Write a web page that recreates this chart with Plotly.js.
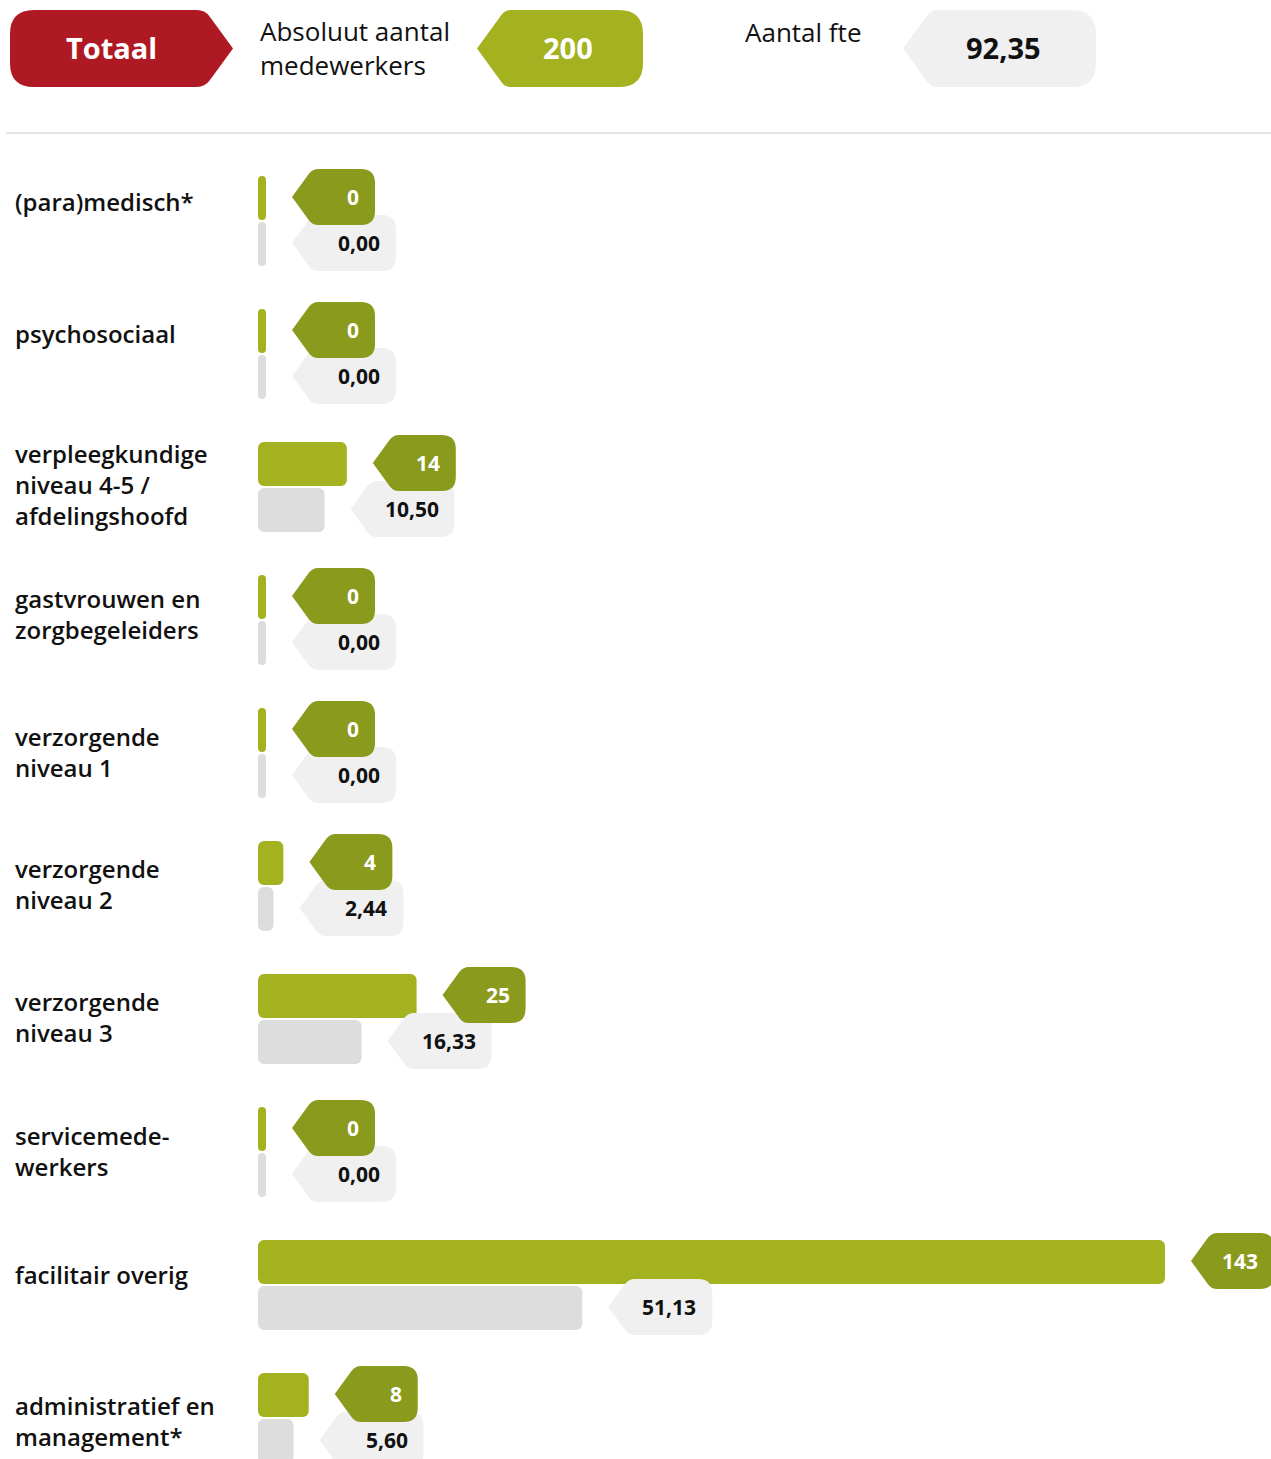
<!DOCTYPE html>
<html><head><meta charset="utf-8">
<script src="https://cdn.plot.ly/plotly-3.0.1.min.js"></script>
<style>html,body{margin:0;padding:0;background:#fff}</style>
</head><body><div id="chart" style="width:1271px;height:1459px"></div>
<script>
// ---- data ----
const categories = ["(para)medisch*","psychosociaal","verpleegkundige<br>niveau 4-5 /<br>afdelingshoofd","gastvrouwen en<br>zorgbegeleiders","verzorgende<br>niveau 1","verzorgende<br>niveau 2","verzorgende<br>niveau 3","servicemede-<br>werkers","facilitair overig","administratief en<br>management*"];
const headcount = [0,0,14,0,0,4,25,0,143,8];
const fte = [0,0,10.50,0,0,2.44,16.33,0,51.13,5.60];
const totalLabel = "Totaal";
const totalHeadcount = 200;
const totalFte = 92.35;
const headcountTitle = "Absoluut aantal<br>medewerkers";
const fteTitle = "Aantal fte";

// ---- layout / style ----
const W = 1271, H = 1459;
const X0 = 258, PPU = 907/143, ROW = 133, ROW0 = 221;
const STUB = 8/PPU, GAP = 26;
const labelOffsetPx = [-20,-21,-3,-6,-1,-2,-2,-1,-11,3];
const C_GREEN = "#a4b220", C_GREEN_D = "#8a9a1c", C_GRAY = "#dddddd", C_GRAY_L = "#f0f0f0", C_RED = "#ae1923";
const FONT = "Open Sans, Noto Sans, sans-serif";

const fmt = v => v.toFixed(2).replace('.', ',');
const idx = categories.map((_, i) => i);
const dispHead = headcount.map(v => Math.max(v, STUB));
const dispFte = fte.map(v => Math.max(v, STUB));

function P(x, y) { return x.toFixed(2) + "," + (-y).toFixed(2); }
// badge with arrow tip on the left at (tx, cy) in screen px offsets
function badgeLeft(tx, cy, w, h, r) {
  const hh = h/2, d = hh*0.73, r2 = 6, L = Math.hypot(d, hh);
  const ux = d/L, uy = hh/L;
  let s = "M" + P(tx, cy);
  s += " L" + P(tx + d - ux*r2, cy - hh + uy*r2) + " Q" + P(tx + d, cy - hh) + " " + P(tx + d + r2, cy - hh);
  s += " L" + P(tx + w - r, cy - hh) + " Q" + P(tx + w, cy - hh) + " " + P(tx + w, cy - hh + r);
  s += " L" + P(tx + w, cy + hh - r) + " Q" + P(tx + w, cy + hh) + " " + P(tx + w - r, cy + hh);
  s += " L" + P(tx + d + r2, cy + hh) + " Q" + P(tx + d, cy + hh) + " " + P(tx + d - ux*r2, cy + hh - uy*r2);
  return s + " Z";
}
// badge with arrow tip on the right
function badgeRight(lx, tip, top, bot, r) {
  const hh = (bot - top)/2, cy = top + hh, d = hh*0.73, r2 = 8, L = Math.hypot(d, hh);
  const ux = d/L, uy = hh/L;
  let s = "M" + P(lx + r, top);
  s += " L" + P(tip - d - r2, top) + " Q" + P(tip - d, top) + " " + P(tip - d + ux*r2, top + uy*r2);
  s += " L" + P(tip, cy);
  s += " L" + P(tip - d + ux*r2, bot - uy*r2) + " Q" + P(tip - d, bot) + " " + P(tip - d - r2, bot);
  s += " L" + P(lx + r, bot) + " Q" + P(lx, bot) + " " + P(lx, bot - r);
  s += " L" + P(lx, top + r) + " Q" + P(lx, top) + " " + P(lx + r, top) + " Z";
  return s;
}
function badgeLeftBox(tip, right, top, bot, r) {
  return badgeLeft(tip, (top + bot)/2, right - tip, bot - top, r);
}

const traces = [
  { type: "bar", orientation: "h", y: idx, x: dispHead, base: 0,
    width: 44/ROW, offset: -45/ROW, marker: { color: C_GREEN, cornerradius: 6 },
    customdata: headcount, hovertemplate: "%{customdata}<extra></extra>" },
  { type: "bar", orientation: "h", y: idx, x: dispFte, base: 0,
    width: 44/ROW, offset: 1/ROW, marker: { color: C_GRAY, cornerradius: 6 },
    customdata: fte, hovertemplate: "%{customdata}<extra></extra>" }
];

const shapes = [], annotations = [];
const GW = 83, FW = 104, BH = 56, GY = -24, FY = 22, PADR = 14;
idx.forEach(i => {
  shapes.push({ type: "path", xref: "x", yref: "y", xsizemode: "pixel", ysizemode: "pixel",
    xanchor: dispFte[i], yanchor: i, path: badgeLeft(GAP, FY, FW, BH, 14),
    fillcolor: C_GRAY_L, line: { width: 0 } });
  shapes.push({ type: "path", xref: "x", yref: "y", xsizemode: "pixel", ysizemode: "pixel",
    xanchor: dispHead[i], yanchor: i, path: badgeLeft(GAP, GY, GW, BH, 14),
    fillcolor: C_GREEN_D, line: { width: 0 } });
  annotations.push({ xref: "x", yref: "y", x: dispFte[i], y: i, xanchor: "right", yanchor: "middle",
    xshift: GAP + FW - PADR, yshift: -FY, showarrow: false, text: fmt(fte[i]),
    font: { family: FONT, size: 21, color: "#111", weight: 700 } });
  annotations.push({ xref: "x", yref: "y", x: dispHead[i], y: i, xanchor: "right", yanchor: "middle",
    xshift: GAP + GW - PADR, yshift: -GY, showarrow: false, text: String(headcount[i]),
    font: { family: FONT, size: 21, color: "#fff", weight: 700 } });
  annotations.push({ xref: "paper", yref: "y", x: 0, y: i, xanchor: "left", yanchor: "middle", align: "left",
    xshift: 13, yshift: -labelOffsetPx[i], showarrow: false, text: categories[i],
    font: { family: FONT, size: 24, color: "#111", weight: 600 } });
});

// header
const hdr = { type: "path", xref: "paper", yref: "paper", xsizemode: "pixel", ysizemode: "pixel",
  xanchor: 0, yanchor: 1, line: { width: 0 } };
shapes.push(Object.assign({}, hdr, { path: badgeRight(10, 233, 10, 87, 24), fillcolor: C_RED }));
shapes.push(Object.assign({}, hdr, { path: badgeLeftBox(477, 643, 10, 87, 24), fillcolor: C_GREEN }));
shapes.push(Object.assign({}, hdr, { path: badgeLeftBox(903, 1096, 10, 87, 24), fillcolor: C_GRAY_L }));
shapes.push({ type: "line", xref: "paper", yref: "paper", x0: 6/W, x1: 1, y0: 1 - 133/H, y1: 1 - 133/H,
  line: { color: "#dcdcdc", width: 1.5 } });

const hAnn = (x, y, text, opts) => Object.assign({ xref: "paper", yref: "paper", x: 0, y: 1,
  xshift: x, yshift: -y, showarrow: false, text: text }, opts);
annotations.push(hAnn(111, 47, totalLabel, { xanchor: "center", yanchor: "middle",
  font: { family: FONT, size: 29, color: "#fff", weight: 700 } }));
annotations.push(hAnn(568, 47, String(totalHeadcount), { xanchor: "center", yanchor: "middle",
  font: { family: FONT, size: 29, color: "#fff", weight: 700 } }));
annotations.push(hAnn(1003, 47, fmt(totalFte), { xanchor: "center", yanchor: "middle",
  font: { family: FONT, size: 29, color: "#111", weight: 700 } }));
annotations.push(hAnn(258, 48, headcountTitle, { xanchor: "left", yanchor: "middle", align: "left",
  font: { family: FONT, size: 26, color: "#111", weight: 400 } }));
annotations.push(hAnn(743, 32, fteTitle, { xanchor: "left", yanchor: "middle", align: "left",
  font: { family: FONT, size: 26, color: "#111", weight: 400 } }));

const layout = {
  width: W, height: H, margin: { l: 0, r: 0, t: 0, b: 0, pad: 0 },
  paper_bgcolor: "#fff", plot_bgcolor: "#fff", showlegend: false, barmode: "overlay",
  xaxis: { range: [-X0/PPU, (W - X0)/PPU], visible: false, fixedrange: true },
  yaxis: { range: [(H - ROW0)/ROW, -ROW0/ROW], visible: false, fixedrange: true },
  shapes: shapes, annotations: annotations
};
Plotly.newPlot("chart", traces, layout, { displayModeBar: false, staticPlot: true });
</script></body></html>
